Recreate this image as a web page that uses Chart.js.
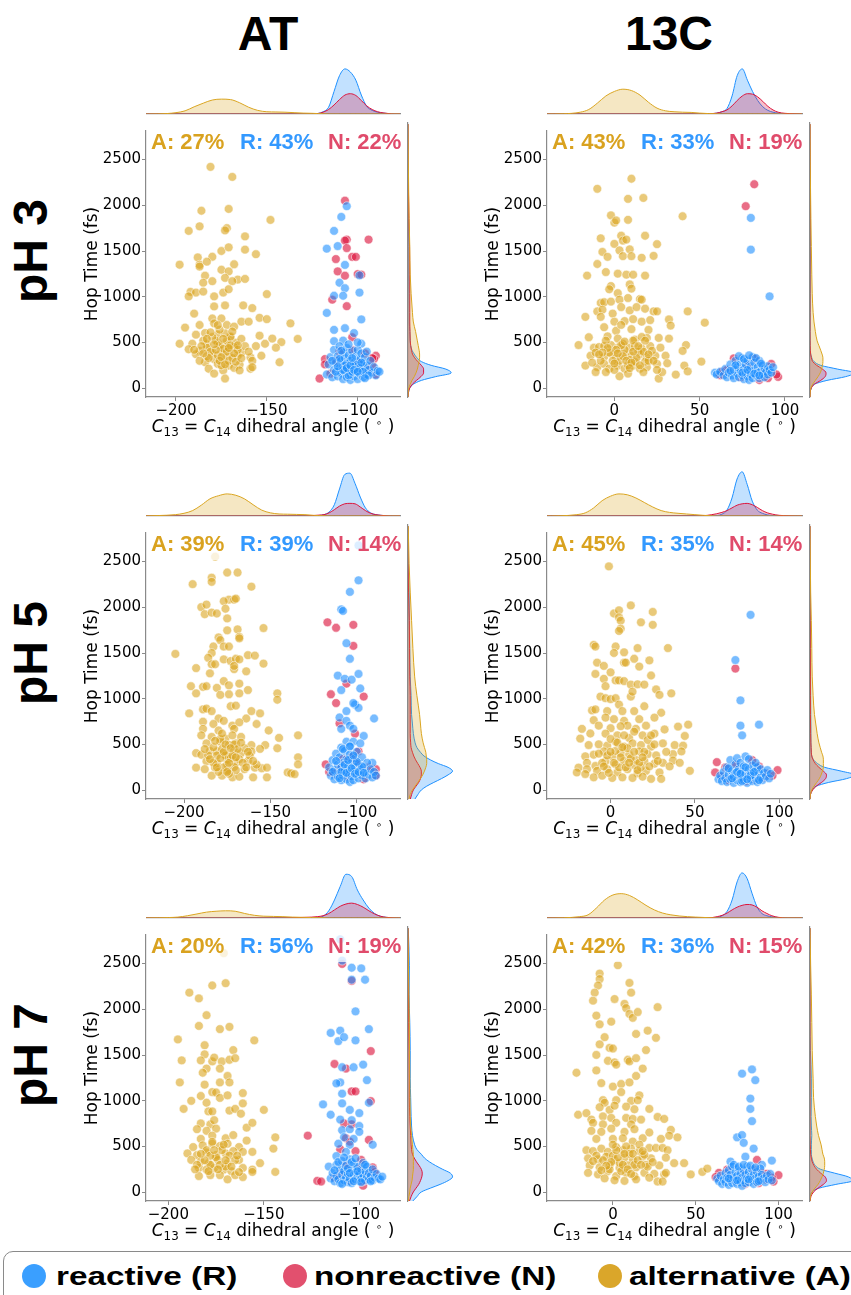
<!DOCTYPE html>
<html>
<head>
<meta charset="utf-8">
<title>Hop time vs C13=C14 dihedral angle</title>
<script src="https://cdn.jsdelivr.net/npm/chart.js@4.4.1/dist/chart.umd.min.js"></script>
<style>
  html, body { margin: 0; padding: 0; background: #fff; }
  body { position: relative; width: 851px; height: 1295px; overflow: hidden; }
  canvas { position: absolute; }
  .colTitle { position: absolute; top: 10px; width: 200px; text-align: center; font: bold 48px "Liberation Sans", Arial, sans-serif; line-height: 48px; }
  .rowTitle { position: absolute; width: 160px; height: 60px; line-height: 60px; text-align: center; font: bold 48px "Liberation Sans", Arial, sans-serif; transform: rotate(-90deg); }
  .xTitle { position: absolute; text-align: center; font: 17px "DejaVu Sans", sans-serif; line-height: 20px; white-space: nowrap; }
  .xTitle sub { font-size: 70%; line-height: 0; vertical-align: -0.3em; }
  .xTitle sup { font-size: 60%; line-height: 0; vertical-align: 0.55em; }
  #legend { position: absolute; left: 3px; top: 1251px; width: 920px; height: 60px; border: 1.5px solid #8a8a8a; border-radius: 10px; box-sizing: border-box; }
  .dot { position: absolute; width: 24px; height: 24px; border-radius: 50%; top: 12px; }
  .lab { position: absolute; top: 9px; font: bold 26px "Liberation Sans", Arial, sans-serif; line-height: 30px; transform: scaleX(1.28); transform-origin: left center; white-space: nowrap; }
</style>
</head>
<body>
<div class="colTitle" style="left:168px">AT</div>
<div class="colTitle" style="left:569px">13C</div>
<div class="rowTitle" style="left:-47px;top:221px">pH 3</div>
<div class="rowTitle" style="left:-47px;top:623px">pH 5</div>
<div class="rowTitle" style="left:-47px;top:1025px">pH 7</div>
<div id="legend">
  <div class="dot" style="left:18px;background:#3a9fff"></div>
  <div class="lab" style="left:52px">reactive (R)</div>
  <div class="dot" style="left:279px;background:#e2506e"></div>
  <div class="lab" style="left:310px">nonreactive (N)</div>
  <div class="dot" style="left:594px;background:#daa62a"></div>
  <div class="lab" style="left:625px">alternative (A)</div>
</div>
<script>
// ---- tick labels ----
const yTickVals = [0, 500, 1000, 1500, 2000, 2500];
const xTicksAT = [-200, -150, -100];
const xTicksC = [0, 50, 100];

// ---- scatter points [angle, hop time] ----
const at3A = [[-181,2420],[-169,2310],[-186,1940],[-171,1960],[-148,1840],[-193,1720],[-187,1770],[-172,1750],[-173,1725],[-162,1660],[-175,1500],[-171,1540],[-162,1515],[-156,1465],[-198,1350],[-188,1430],[-180,1437],[-187,1350],[-183,1383],[-187,1330],[-168,1355],[-175,1295],[-184,1230],[-171,1277],[-166,1188],[-180,1170],[-185,1153],[-173,1206],[-169,1170],[-162,1195],[-192,1053],[-189,1046],[-185,1057],[-193,1004],[-179,1004],[-174,1046],[-171,1082],[-150,1029],[-179,894],[-173,905],[-163,905],[-158,876],[-190,816],[-180,762],[-175,762],[-154,770],[-150,755],[-137,709],[-195,663],[-187,691],[-179,709],[-172,691],[-164,727],[-160,727],[-168,674],[-189,585],[-184,603],[-177,585],[-170,567],[-154,574],[-147,543],[-133,539],[-142,504],[-198,486],[-191,486],[-183,479],[-177,497],[-172,461],[-167,497],[-156,461],[-151,486],[-145,443],[-193,426],[-187,408],[-180,390],[-175,408],[-171,372],[-164,390],[-189,372],[-183,443],[-179,319],[-173,337],[-166,355],[-159,337],[-153,355],[-184,284],[-177,266],[-171,248],[-165,259],[-143,284],[-182,213],[-174,195],[-168,223],[-159,213],[-179,160],[-173,106],[-165,195],[-178,520],[-176,470],[-174,430],[-172,520],[-170,560],[-168,450],[-166,420],[-181,400],[-183,350],[-185,520],[-177,360],[-175,250],[-171,300],[-169,330],[-180,560],[-173,600],[-176,640],[-186,460],[-190,420],[-164,540],[-162,460],[-160,400],[-158,300],[-158,230],[-182,330],[-178,420],[-176,300],[-174,540],[-172,400],[-170,470],[-168,380],[-167,290],[-179,480],[-181,610],[-185,380],[-187,300],[-164,330],[-169,620],[-177,690],[-183,540],[-175,340],[-171,440],[-173,260],[-166,470]];
const at3R = [[-106,1990],[-109,1873],[-113,1720],[-117,1525],[-111,1554],[-107,1348],[-110,1153],[-107,1093],[-113,1011],[-108,1011],[-99,1046],[-99,1234],[-117,823],[-98,752],[-113,638],[-107,656],[-102,603],[-108,521],[-98,486],[-113,514],[-117,150],[-116,260],[-115,340],[-114,120],[-113,200],[-113,420],[-112,280],[-111,130],[-111,350],[-110,220],[-110,460],[-109,160],[-109,300],[-108,100],[-108,240],[-108,390],[-107,180],[-107,330],[-106,120],[-106,270],[-106,440],[-105,200],[-105,360],[-104,90],[-104,150],[-104,300],[-103,230],[-103,410],[-102,130],[-102,280],[-101,180],[-101,350],[-100,100],[-100,240],[-100,420],[-99,160],[-99,310],[-98,210],[-98,380],[-97,120],[-97,270],[-96,190],[-96,340],[-95,150],[-95,250],[-94,200],[-93,300],[-92,170],[-91,230],[-90,140],[-89,190],[-88,180],[-112,180],[-110,320],[-107,250],[-105,140],[-103,180],[-101,260],[-99,220],[-97,180],[-94,140],[-108,200],[-106,220],[-104,250],[-102,200],[-100,180],[-111,240],[-114,300],[-103,330],[-98,280],[-96,110],[-109,410],[-105,480],[-100,500],[-95,400]];
const at3N = [[-107,2050],[-106,1625],[-107,1614],[-94,1625],[-106,1532],[-112,1412],[-103,1436],[-101,1436],[-111,1277],[-107,1230],[-100,1248],[-98,1241],[-114,968],[-106,897],[-103,557],[-121,106],[-118,319],[-90,355],[-91,322],[-92,248],[-112,300],[-100,280],[-95,200],[-115,160],[-110,400],[-103,420],[-96,380],[-118,260],[-90,150],[-107,230],[-92,330]];

const c3A = [[10,2290],[-10,2180],[8,2070],[17,2080],[40,1880],[-2,1890],[0,1810],[1,1834],[8,1841],[-8,1639],[0,1578],[4,1667],[5,1614],[7,1625],[18,1667],[25,1575],[-7,1490],[-4,1436],[3,1507],[5,1444],[9,1518],[10,1444],[16,1426],[23,1447],[-10,1358],[-5,1270],[2,1252],[7,1241],[11,1241],[18,1231],[-16,1231],[-2,1117],[-3,1082],[9,1135],[10,1089],[2,1039],[-8,933],[-6,940],[-2,947],[3,968],[8,986],[15,975],[16,968],[-10,840],[-7,858],[-1,816],[4,887],[9,851],[13,887],[18,869],[23,840],[25,840],[43,840],[-17,780],[-8,780],[0,727],[6,734],[11,755],[16,727],[21,745],[32,752],[53,716],[-6,667],[1,628],[4,692],[10,646],[20,638],[33,685],[-4,567],[2,543],[12,532],[19,550],[26,550],[32,543],[-15,557],[-21,472],[-12,443],[-9,450],[-6,461],[-2,472],[2,443],[5,486],[9,443],[12,461],[16,436],[21,461],[27,443],[42,472],[40,408],[-14,355],[-11,390],[-6,344],[-2,380],[1,337],[6,372],[10,355],[15,372],[19,337],[24,355],[30,355],[-17,248],[-10,230],[-6,266],[-3,213],[2,248],[6,213],[11,248],[15,213],[19,230],[25,266],[31,273],[51,291],[-11,177],[-5,177],[3,131],[8,160],[17,177],[26,106],[28,177],[36,149],[41,248],[43,184],[3,300],[6,420],[9,310],[12,290],[14,400],[-3,390],[-8,300],[18,290],[22,410],[8,250],[0,200],[4,470],[11,520],[-5,520],[16,560],[20,300],[25,200],[-13,280],[1,420],[5,350],[7,300],[13,330],[17,400],[-1,300],[-4,440],[10,280],[15,250],[20,370],[23,300],[-7,390],[2,380],[11,400],[6,510],[-9,370],[14,460],[18,520],[0,270],[9,220]];
const c3R = [[80,1862],[80,1515],[91,1004],[59,170],[60,150],[62,180],[64,140],[65,210],[66,120],[67,170],[68,260],[69,140],[70,200],[70,110],[71,300],[72,160],[72,230],[73,120],[74,190],[74,280],[75,140],[75,330],[76,100],[76,210],[77,170],[77,260],[78,130],[78,300],[79,190],[79,90],[80,240],[80,150],[81,110],[81,340],[82,200],[82,280],[83,140],[84,230],[84,170],[85,110],[85,300],[86,190],[87,150],[87,250],[88,210],[88,120],[89,180],[90,240],[90,150],[91,200],[92,170],[93,230],[73,350],[76,320],[79,360],[83,330],[86,270],[71,250],[68,190],[75,170],[78,200],[82,160],[85,140]];
const c3N = [[82,2230],[77,1990],[96,124],[70,326],[62,142],[92,266],[82,326],[66,200],[74,120],[88,180],[85,90],[78,250],[90,110],[63,180],[95,150]];

const at5A = [[-182,2553],[-175,2380],[-169,2380],[-195,2253],[-184,2323],[-184,2278],[-161,2225],[-190,2002],[-187,2030],[-174,2083],[-171,2083],[-177,2066],[-170,2095],[-188,1924],[-184,1942],[-181,1932],[-176,1984],[-175,1878],[-175,1748],[-169,1758],[-154,1773],[-180,1670],[-179,1642],[-168,1677],[-168,1660],[-183,1571],[-177,1571],[-174,1571],[-205,1490],[-184,1500],[-186,1448],[-177,1430],[-173,1412],[-170,1437],[-168,1430],[-163,1476],[-159,1472],[-154,1384],[-193,1335],[-184,1377],[-182,1377],[-171,1324],[-171,1359],[-164,1300],[-185,1278],[-177,1193],[-168,1165],[-196,1137],[-189,1130],[-187,1137],[-181,1119],[-174,1147],[-163,1095],[-193,1059],[-179,1042],[-174,1049],[-168,1059],[-146,1059],[-146,989],[-173,918],[-170,925],[-189,883],[-187,893],[-184,865],[-161,865],[-197,840],[-156,840],[-180,784],[-177,759],[-164,784],[-189,749],[-183,724],[-172,706],[-168,742],[-158,724],[-189,671],[-180,653],[-171,671],[-151,653],[-145,572],[-134,600],[-190,600],[-184,583],[-176,565],[-167,583],[-187,512],[-179,530],[-174,494],[-170,512],[-161,494],[-153,494],[-193,406],[-190,388],[-185,430],[-181,424],[-176,388],[-171,430],[-167,406],[-161,424],[-156,452],[-146,459],[-187,318],[-181,300],[-175,335],[-170,300],[-163,318],[-134,360],[-134,282],[-193,247],[-188,230],[-182,247],[-175,219],[-171,254],[-165,230],[-159,247],[-155,240],[-152,247],[-184,159],[-178,159],[-172,141],[-168,148],[-160,141],[-152,141],[-140,194],[-138,184],[-136,176],[-178,450],[-176,380],[-173,350],[-171,500],[-179,560],[-181,380],[-183,470],[-175,280],[-177,250],[-180,200],[-168,340],[-165,460],[-170,220],[-172,600],[-186,380],[-174,180],[-162,380],[-158,280],[-183,300],[-179,350],[-177,420],[-174,300],[-172,380],[-169,450],[-166,300],[-164,250],[-181,250],[-185,340],[-188,450],[-176,500],[-173,460],[-170,360],[-167,520],[-163,420],[-178,620],[-175,200],[-182,540],[-160,320]];
const at5R = [[-99,2676],[-99,2295],[-104,2168],[-109,1977],[-108,1960],[-106,1607],[-104,1437],[-111,1253],[-107,1218],[-103,1208],[-99,1271],[-109,1095],[-98,1112],[-106,865],[-101,936],[-99,900],[-102,953],[-90,784],[-110,795],[-106,759],[-104,706],[-109,671],[-102,671],[-96,593],[-106,530],[-102,530],[-98,512],[-109,466],[-104,477],[-91,300],[-116,250],[-115,160],[-114,330],[-113,120],[-113,220],[-112,400],[-111,280],[-111,150],[-110,190],[-110,360],[-109,110],[-109,250],[-108,300],[-108,160],[-107,430],[-107,210],[-106,120],[-106,340],[-105,260],[-105,180],[-104,90],[-104,390],[-104,220],[-103,150],[-103,300],[-102,200],[-102,110],[-101,350],[-101,250],[-100,170],[-100,420],[-99,130],[-99,290],[-98,220],[-97,160],[-97,360],[-96,250],[-95,130],[-95,190],[-94,300],[-93,170],[-92,230],[-91,140],[-90,200],[-89,160],[-112,320],[-109,200],[-107,280],[-106,190],[-105,330],[-103,240],[-101,180],[-99,200],[-97,260],[-108,450],[-104,480],[-100,310],[-96,190],[-110,130],[-114,200],[-102,380]];
const at5N = [[-117,1836],[-112,1776],[-102,1808],[-102,1578],[-115,1049],[-112,953],[-96,1024],[-106,1165],[-110,731],[-101,618],[-118,282],[-89,230],[-89,159],[-99,424],[-110,230],[-106,150],[-100,300],[-96,120],[-113,180],[-103,360],[-93,250],[-116,200],[-108,340]];

const c5A = [[-1,2447],[12,2020],[2,1932],[5,1967],[25,1949],[5,1889],[6,1854],[6,1766],[5,1741],[18,1836],[25,1808],[-10,1589],[-9,1571],[3,1571],[16,1554],[34,1554],[2,1500],[8,1508],[14,1437],[23,1419],[-8,1395],[-4,1359],[8,1395],[9,1395],[17,1352],[0,1289],[-9,1271],[24,1254],[-4,1218],[3,1200],[5,1200],[8,1193],[12,1155],[16,1158],[20,1155],[-3,1137],[27,1102],[36,1059],[-6,1024],[-3,1006],[0,996],[3,1006],[12,1024],[13,1077],[29,1042],[-11,872],[-9,883],[-2,865],[5,936],[7,865],[14,865],[20,918],[30,847],[-3,794],[2,777],[8,759],[17,777],[26,794],[-10,766],[-7,706],[0,678],[10,706],[15,671],[21,706],[32,664],[40,696],[46,717],[-18,565],[-17,671],[-3,618],[4,600],[11,572],[19,600],[26,618],[44,593],[-13,494],[-7,502],[-2,487],[3,530],[8,477],[13,512],[18,494],[24,477],[31,512],[38,494],[43,487],[-15,371],[-10,388],[-4,424],[1,371],[6,406],[11,388],[17,424],[22,395],[27,381],[37,395],[42,424],[-14,300],[-9,265],[-3,318],[3,282],[8,318],[14,275],[20,318],[26,290],[31,300],[37,325],[41,300],[-19,247],[-14,230],[-8,212],[-2,230],[4,194],[10,230],[16,184],[21,212],[29,194],[47,212],[-20,194],[-15,177],[-10,141],[-5,159],[1,134],[7,141],[13,134],[19,148],[24,124],[30,124],[5,250],[10,460],[15,330],[20,420],[-5,300],[0,560],[8,600],[12,350],[18,250],[22,550],[3,430],[-2,380],[26,500],[14,640],[6,700],[2,300],[6,360],[9,250],[14,420],[17,300],[23,260],[-4,260],[0,420],[4,520],[11,300],[19,360],[-7,400],[28,320],[33,420],[7,470],[-1,190],[16,220],[24,600],[-12,620],[35,260]];
const c5R = [[83,1917],[74,1423],[77,982],[77,706],[88,717],[78,600],[64,120],[65,160],[66,100],[67,200],[68,130],[69,90],[69,250],[70,170],[71,120],[71,330],[72,210],[73,80],[73,150],[74,280],[74,190],[75,110],[75,350],[76,160],[76,230],[77,90],[77,300],[78,140],[78,200],[79,260],[79,110],[80,180],[80,370],[81,80],[81,150],[82,230],[82,340],[83,120],[83,190],[84,270],[84,100],[85,160],[86,210],[86,130],[87,90],[87,250],[88,180],[89,140],[89,230],[90,110],[91,190],[92,150],[93,220],[94,130],[95,180],[72,130],[75,200],[78,100],[80,250],[83,160],[86,300],[70,240],[77,180],[81,120],[85,200],[88,110]];
const c5N = [[74,1330],[63,307],[62,194],[99,220],[84,328],[91,141],[66,150],[70,110],[88,260],[93,180],[80,100],[74,280],[68,250],[96,160],[85,120]];

const at7A = [[-171,2613],[-170,2285],[-177,2260],[-189,2182],[-184,2119],[-180,1935],[-184,1818],[-173,1783],[-168,1808],[-195,1670],[-155,1660],[-181,1607],[-166,1554],[-181,1508],[-193,1441],[-183,1441],[-177,1430],[-176,1472],[-172,1430],[-168,1448],[-165,1465],[-180,1352],[-182,1306],[-173,1352],[-169,1271],[-194,1200],[-181,1176],[-173,1200],[-168,1200],[-177,1095],[-175,1090],[-183,1052],[-188,999],[-180,978],[-173,1031],[-169,1059],[-161,1084],[-192,911],[-179,883],[-177,883],[-168,893],[-165,911],[-161,971],[-150,900],[-162,858],[-183,752],[-178,742],[-176,787],[-185,689],[-180,671],[-175,696],[-159,706],[-156,759],[-144,600],[-183,583],[-177,618],[-170,590],[-166,625],[-159,565],[-187,494],[-182,512],[-177,530],[-173,505],[-169,530],[-163,494],[-145,477],[-190,424],[-185,406],[-180,434],[-175,406],[-170,424],[-166,449],[-161,441],[-156,441],[-188,353],[-183,335],[-179,318],[-174,353],[-169,318],[-163,353],[-152,318],[-184,265],[-180,247],[-176,265],[-171,247],[-167,230],[-161,265],[-156,247],[-144,222],[-184,177],[-178,187],[-173,187],[-169,141],[-165,187],[-161,166],[-156,222],[-172,460],[-168,400],[-175,380],[-178,300],[-180,460],[-170,280],[-165,350],[-163,220],[-185,300],[-177,550],[-178,400],[-173,300],[-170,350],[-167,280],[-181,350],[-176,460],[-183,420],[-171,520],[-164,400],[-186,250],[-179,230],[-174,250]];
const at7R = [[-110,2765],[-109,2532],[-104,2454],[-99,2447],[-97,2323],[-104,2323],[-102,1977],[-115,1741],[-110,1766],[-95,1783],[-111,1652],[-108,1695],[-102,1660],[-109,1366],[-103,1366],[-98,1395],[-110,1200],[-112,1190],[-96,1225],[-109,1077],[-119,960],[-115,847],[-109,971],[-105,900],[-100,865],[-95,978],[-110,794],[-104,787],[-100,724],[-109,678],[-105,689],[-100,660],[-108,600],[-103,583],[-111,530],[-105,519],[-93,519],[-112,395],[-107,441],[-116,280],[-115,150],[-114,210],[-113,120],[-112,300],[-112,180],[-111,140],[-110,250],[-110,100],[-109,190],[-109,340],[-108,130],[-108,230],[-107,160],[-107,290],[-106,110],[-106,200],[-105,360],[-105,150],[-104,250],[-104,100],[-103,190],[-103,310],[-102,140],[-102,220],[-101,170],[-101,280],[-100,120],[-100,200],[-99,250],[-99,150],[-98,190],[-98,320],[-97,130],[-97,230],[-96,170],[-96,280],[-95,140],[-95,210],[-94,180],[-93,250],[-93,130],[-92,160],[-91,200],[-90,150],[-89,140],[-88,170],[-111,330],[-108,380],[-106,260],[-104,330],[-102,370],[-105,210],[-103,120],[-101,230],[-99,110],[-97,300],[-113,240],[-109,90],[-94,120]];
const at7N = [[-109,2496],[-104,2310],[-94,1543],[-113,1402],[-107,1352],[-104,1102],[-102,1102],[-94,996],[-108,752],[-104,742],[-107,590],[-105,554],[-95,572],[-110,470],[-102,449],[-127,618],[-122,124],[-120,117],[-99,353],[-93,272],[-98,71],[-110,200],[-105,130],[-100,260],[-96,190],[-113,160],[-107,300],[-92,220],[-98,120]];

const c7A = [[3,2482],[-8,2390],[-8,2330],[-9,2260],[10,2288],[-11,2182],[11,2182],[-12,2094],[1,2112],[7,2059],[8,2013],[-10,1931],[10,1949],[12,1907],[15,1970],[27,2023],[-8,1836],[-1,1864],[-5,1695],[14,1730],[21,1766],[26,1688],[-8,1617],[-2,1578],[0,1571],[20,1554],[-10,1501],[-3,1437],[1,1419],[2,1395],[9,1448],[10,1430],[14,1465],[-22,1306],[-10,1331],[14,1271],[18,1352],[-7,1193],[0,1155],[5,1183],[5,1095],[10,1200],[16,1059],[-6,1006],[-5,978],[2,1006],[11,999],[15,1006],[22,911],[-8,929],[-2,900],[1,946],[8,936],[13,907],[-21,847],[-16,865],[-13,794],[-6,829],[-1,812],[8,812],[12,801],[17,794],[27,823],[31,801],[-12,759],[-6,742],[2,759],[11,742],[35,682],[-13,671],[-7,660],[-1,696],[7,660],[13,689],[22,653],[34,618],[39,600],[-10,583],[0,583],[6,590],[12,554],[18,590],[29,583],[-16,459],[-12,449],[-7,477],[-3,441],[2,494],[6,459],[11,477],[16,449],[22,484],[26,484],[30,484],[33,459],[-15,371],[-9,360],[-4,388],[1,353],[7,378],[12,353],[18,388],[23,371],[32,378],[-14,293],[-8,272],[-2,300],[4,265],[9,293],[14,272],[20,300],[28,293],[37,318],[43,318],[-15,212],[-9,194],[-3,230],[2,177],[8,212],[13,177],[19,212],[25,201],[31,194],[32,212],[47,194],[54,222],[57,258],[-5,152],[1,131],[7,124],[14,141],[22,159],[27,117],[30,117],[0,400],[4,320],[8,500],[-2,250],[10,420],[13,300],[-6,350],[16,520],[19,410],[5,230],[-10,400],[21,280],[3,380],[6,300],[9,250],[12,420],[15,350],[-1,330],[-4,290],[2,460],[7,420],[17,300],[-7,240],[11,200],[24,330],[0,520],[-12,340],[18,450]];
const c7R = [[84,1342],[78,1296],[86,1225],[83,1024],[83,911],[84,777],[75,600],[78,625],[79,540],[85,477],[80,388],[96,346],[71,335],[90,300],[63,150],[64,120],[65,180],[66,90],[67,140],[68,210],[68,110],[69,160],[70,80],[70,240],[71,130],[71,190],[72,100],[72,280],[73,160],[74,120],[74,220],[75,90],[75,180],[76,140],[76,260],[77,110],[77,200],[78,70],[78,160],[79,240],[79,130],[80,100],[80,190],[81,280],[81,150],[82,110],[82,220],[83,170],[84,130],[84,250],[85,90],[85,190],[86,150],[87,220],[87,110],[88,170],[89,130],[89,260],[90,190],[91,150],[92,110],[93,180],[94,140],[95,200],[96,130],[73,300],[76,280],[79,300],[83,290],[86,270],[70,150],[75,130],[82,140],[88,120]];
const c7N = [[87,353],[64,212],[62,166],[100,187],[97,117],[90,212],[93,201],[69,247],[74,120],[80,90],[85,250],[70,180],[92,140],[88,100],[96,160],[78,220]];

// ---- percentages shown in each panel: A, R, N ----
const at3Pct = [27, 43, 22], c3Pct = [43, 33, 19];
const at5Pct = [39, 39, 14], c5Pct = [45, 35, 14];
const at7Pct = [20, 56, 19], c7Pct = [42, 36, 15];

// ---- marginal density curves (relative height) ----
const gridAT = [-225,-215,-205,-200,-195,-190,-185,-180,-175,-170,-165,-160,-155,-150,-145,-140,-135,-130,-125,-122,-119,-116,-113,-110,-107,-104,-101,-98,-95,-92,-89,-86,-83,-80,-75];
const gridC = [-40,-30,-20,-15,-10,-5,0,5,10,15,20,25,30,35,40,45,50,55,60,63,66,69,72,75,78,81,84,87,90,93,96,100,105,110,115];
const hopGrid = [-100,-50,0,40,80,120,160,200,240,280,320,360,400,450,500,600,700,800,1000,1200,1500,1800,2100,2400,2800];

const at3TopA = [0,0,0.01,0.03,0.07,0.16,0.24,0.31,0.33,0.32,0.25,0.15,0.08,0.05,0.045,0.04,0.03,0.02,0.015,0.01,0.005,0,0,0,0,0,0,0,0,0,0,0,0,0,0];
const at3TopR = [0,0,0,0,0,0,0,0,0,0,0,0,0,0,0,0,0,0,0,0.01,0.05,0.15,0.5,0.85,1.0,0.93,0.75,0.42,0.17,0.08,0.04,0.02,0.008,0,0];
const at3TopN = [0,0,0,0,0,0,0,0,0,0,0,0,0,0,0,0,0,0,0,0.01,0.04,0.1,0.2,0.32,0.42,0.45,0.41,0.3,0.18,0.1,0.05,0.025,0.01,0,0];
const c3TopA = [0,0.005,0.04,0.1,0.24,0.4,0.5,0.55,0.52,0.42,0.26,0.13,0.07,0.05,0.04,0.035,0.02,0.01,0.005,0,0,0,0,0,0,0,0,0,0,0,0,0,0,0,0];
const c3TopR = [0,0,0,0,0,0,0,0,0,0,0,0,0,0,0,0,0,0,0.02,0.05,0.12,0.4,0.85,1.0,0.75,0.5,0.3,0.16,0.08,0.04,0.02,0.005,0,0,0];
const c3TopN = [0,0,0,0,0,0,0,0,0,0,0,0,0,0,0,0,0,0.005,0.02,0.05,0.09,0.18,0.3,0.4,0.45,0.44,0.38,0.28,0.17,0.09,0.04,0.015,0.005,0,0];
const at5TopA = [0,0.01,0.03,0.06,0.12,0.24,0.38,0.45,0.49,0.46,0.38,0.25,0.13,0.07,0.045,0.04,0.035,0.03,0.015,0.01,0.005,0,0,0,0,0,0,0,0,0,0,0,0,0,0];
const at5TopR = [0,0,0,0,0,0,0,0,0,0,0,0,0,0,0,0,0,0,0.003,0.01,0.03,0.09,0.25,0.6,0.92,0.95,0.72,0.42,0.18,0.07,0.03,0.015,0.005,0,0];
const at5TopN = [0,0,0,0,0,0,0,0,0,0,0,0,0,0,0,0,0,0,0.01,0.02,0.03,0.07,0.14,0.22,0.27,0.28,0.27,0.2,0.12,0.06,0.03,0.015,0.005,0,0];
const c5TopA = [0,0.005,0.03,0.07,0.18,0.34,0.44,0.49,0.47,0.4,0.3,0.2,0.12,0.08,0.06,0.045,0.03,0.015,0.005,0,0,0,0,0,0,0,0,0,0,0,0,0,0,0,0];
const c5TopR = [0,0,0,0,0,0,0,0,0,0,0,0,0,0,0,0,0,0,0.005,0.01,0.04,0.13,0.4,0.82,0.98,0.7,0.33,0.13,0.06,0.025,0.01,0.003,0,0,0];
const c5TopN = [0,0,0,0,0,0,0,0,0,0,0,0,0,0,0,0,0,0.005,0.03,0.05,0.08,0.12,0.18,0.24,0.27,0.28,0.25,0.19,0.12,0.07,0.04,0.015,0.005,0,0];
const at7TopA = [0,0,0.005,0.01,0.02,0.05,0.09,0.13,0.15,0.16,0.15,0.1,0.06,0.04,0.035,0.03,0.02,0.015,0.01,0.008,0.005,0,0,0,0,0,0,0,0,0,0,0,0,0,0];
const at7TopR = [0,0,0,0,0,0,0,0,0,0,0,0,0,0,0,0,0,0,0.005,0.015,0.04,0.16,0.4,0.7,0.97,0.92,0.62,0.4,0.22,0.1,0.04,0.015,0.005,0,0];
const at7TopN = [0,0,0,0,0,0,0,0,0,0,0,0,0,0,0,0,0.005,0.012,0.02,0.03,0.05,0.1,0.18,0.26,0.31,0.33,0.3,0.24,0.16,0.09,0.04,0.015,0.005,0,0];
const c7TopA = [0,0.005,0.03,0.07,0.22,0.4,0.51,0.54,0.5,0.4,0.28,0.18,0.11,0.07,0.045,0.03,0.02,0.012,0.005,0,0,0,0,0,0,0,0,0,0,0,0,0,0,0,0];
const c7TopR = [0,0,0,0,0,0,0,0,0,0,0,0,0,0,0,0,0,0,0.005,0.015,0.05,0.15,0.4,0.8,1.0,0.88,0.55,0.25,0.1,0.05,0.025,0.008,0,0,0];
const c7TopN = [0,0,0,0,0,0,0,0,0,0,0,0,0,0,0,0,0,0,0.01,0.03,0.06,0.11,0.18,0.24,0.28,0.3,0.29,0.24,0.16,0.1,0.05,0.015,0,0,0];

const at3SideA = [0,0.005,0.02,0.05,0.09,0.14,0.18,0.21,0.23,0.25,0.26,0.26,0.25,0.23,0.21,0.17,0.12,0.1,0.07,0.05,0.04,0.025,0.015,0.008,0];
const at3SideR = [0,0.01,0.04,0.12,0.3,0.62,0.97,0.85,0.52,0.3,0.2,0.14,0.09,0.06,0.05,0.04,0.03,0.03,0.025,0.02,0.02,0.012,0.005,0,0];
const at3SideN = [0,0.01,0.04,0.1,0.19,0.29,0.35,0.35,0.3,0.22,0.15,0.1,0.08,0.06,0.05,0.045,0.04,0.04,0.04,0.04,0.035,0.02,0.01,0.003,0];
const c3SideA = [0,0.005,0.02,0.06,0.12,0.18,0.23,0.26,0.28,0.29,0.29,0.27,0.24,0.2,0.16,0.12,0.09,0.07,0.05,0.04,0.03,0.02,0.012,0.005,0];
const c3SideR = [0,0.005,0.03,0.1,0.38,0.8,1.0,0.62,0.24,0.09,0.04,0.015,0.005,0.003,0.003,0.003,0.003,0.004,0.006,0.006,0.008,0.008,0.003,0,0];
const c3SideN = [0,0.005,0.03,0.1,0.24,0.34,0.36,0.28,0.15,0.06,0.03,0.015,0.008,0.004,0.002,0,0,0,0,0,0,0.004,0.005,0.002,0];
const at5SideA = [0.02,0.05,0.1,0.16,0.22,0.28,0.33,0.37,0.4,0.42,0.42,0.41,0.4,0.37,0.34,0.3,0.28,0.26,0.2,0.15,0.11,0.08,0.05,0.025,0.005];
const at5SideR = [0.15,0.22,0.3,0.42,0.58,0.75,0.9,1.0,0.9,0.68,0.5,0.36,0.28,0.2,0.16,0.12,0.1,0.08,0.07,0.05,0.04,0.03,0.025,0.01,0];
const at5SideN = [0.05,0.08,0.12,0.18,0.24,0.28,0.3,0.3,0.27,0.22,0.17,0.13,0.1,0.07,0.06,0.05,0.05,0.05,0.05,0.04,0.035,0.03,0.012,0.003,0];
const c5SideA = [0,0.01,0.04,0.09,0.15,0.21,0.25,0.28,0.3,0.3,0.3,0.29,0.26,0.23,0.2,0.16,0.13,0.1,0.07,0.05,0.04,0.03,0.015,0.008,0];
const c5SideR = [0,0.01,0.05,0.14,0.42,0.82,1.0,0.7,0.33,0.17,0.08,0.04,0.03,0.025,0.02,0.02,0.02,0.018,0.015,0.012,0.01,0.01,0.004,0,0];
const c5SideN = [0,0.01,0.06,0.14,0.26,0.35,0.37,0.3,0.2,0.12,0.07,0.04,0.03,0.025,0.02,0.015,0.012,0.01,0.01,0.01,0.008,0.005,0,0,0];
const at7SideA = [0.01,0.02,0.04,0.05,0.07,0.09,0.1,0.11,0.12,0.12,0.12,0.12,0.12,0.11,0.1,0.08,0.06,0.05,0.045,0.04,0.035,0.03,0.02,0.01,0];
const at7SideR = [0.1,0.2,0.3,0.5,0.72,0.9,1.0,0.95,0.78,0.62,0.48,0.37,0.3,0.2,0.15,0.1,0.08,0.07,0.06,0.05,0.05,0.04,0.025,0.03,0.005];
const at7SideN = [0.03,0.07,0.12,0.18,0.24,0.28,0.31,0.32,0.3,0.25,0.19,0.14,0.1,0.08,0.07,0.06,0.05,0.04,0.03,0.03,0.025,0.015,0.01,0.01,0];
const c7SideA = [0,0.01,0.05,0.11,0.18,0.23,0.27,0.3,0.32,0.33,0.33,0.32,0.29,0.27,0.25,0.19,0.15,0.12,0.08,0.07,0.05,0.04,0.03,0.015,0];
const c7SideR = [0,0.01,0.05,0.2,0.58,0.96,0.86,0.55,0.24,0.12,0.07,0.045,0.03,0.03,0.03,0.04,0.03,0.025,0.03,0.03,0.01,0,0,0,0];
const c7SideN = [0,0.02,0.08,0.18,0.3,0.37,0.34,0.24,0.15,0.09,0.05,0.03,0.015,0.01,0.005,0,0,0,0,0,0,0,0,0,0];

// ---- styling ----
Chart.defaults.font.family = '"DejaVu Sans", sans-serif';
const COLORS = { A: '#daa520', R: '#1e90ff', N: '#dc143c' };
const POINT_FILL = { A: 'rgba(218,165,32,0.6)', R: 'rgba(30,144,255,0.6)', N: 'rgba(220,20,60,0.62)' };
const AREA_FILL = { A: 'rgba(218,165,32,0.27)', R: 'rgba(30,144,255,0.27)', N: 'rgba(220,20,60,0.27)' };
const TEXT_COLORS = { A: '#d9a21f', R: '#3399ff', N: '#e04b6b' };
const AXIS = '#8a8a8a';
const Y_MIN = -96, Y_MAX = 2812;
const COL_LEFT = [146, 547], COL_W = [254, 255], ROW_TOP = [123, 525, 927], PLOT_H = 274;

const panels = [
  { row: 0, col: 0, xMin: -216.5, xMax: -76.7, xTicks: xTicksAT, A: at3A, R: at3R, N: at3N, pct: at3Pct, grid: gridAT, topA: at3TopA, topR: at3TopR, topN: at3TopN, sideA: at3SideA, sideR: at3SideR, sideN: at3SideN },
  { row: 0, col: 1, xMin: -39.5, xMax: 110, xTicks: xTicksC, A: c3A, R: c3R, N: c3N, pct: c3Pct, grid: gridC, topA: c3TopA, topR: c3TopR, topN: c3TopN, sideA: c3SideA, sideR: c3SideR, sideN: c3SideN },
  { row: 1, col: 0, xMin: -222, xMax: -75, xTicks: xTicksAT, A: at5A, R: at5R, N: at5N, pct: at5Pct, grid: gridAT, topA: at5TopA, topR: at5TopR, topN: at5TopN, sideA: at5SideA, sideR: at5SideR, sideN: at5SideN },
  { row: 1, col: 1, xMin: -37.7, xMax: 113.5, xTicks: xTicksC, A: c5A, R: c5R, N: c5N, pct: c5Pct, grid: gridC, topA: c5TopA, topR: c5TopR, topN: c5TopN, sideA: c5SideA, sideR: c5SideR, sideN: c5SideN },
  { row: 2, col: 0, xMin: -211.7, xMax: -78.7, xTicks: xTicksAT, A: at7A, R: at7R, N: at7N, pct: at7Pct, grid: gridAT, topA: at7TopA, topR: at7TopR, topN: at7TopN, sideA: at7SideA, sideR: at7SideR, sideN: at7SideN },
  { row: 2, col: 1, xMin: -39.8, xMax: 114.2, xTicks: xTicksC, A: c7A, R: c7R, N: c7N, pct: c7Pct, grid: gridC, topA: c7TopA, topR: c7TopR, topN: c7TopN, sideA: c7SideA, sideR: c7SideR, sideN: c7SideN },
];

function fmtTick(v) {
  return v < 0 ? '\u2212' + Math.abs(v) : String(v);
}

function addCanvas(left, top, w, h) {
  const c = document.createElement('canvas');
  c.width = w; c.height = h;
  c.style.left = left + 'px'; c.style.top = top + 'px';
  c.style.width = w + 'px'; c.style.height = h + 'px';
  document.body.appendChild(c);
  return c;
}

// percentages strip at the top of each scatter, on a light white box
const statsPlugin = {
  id: 'stats',
  afterDatasetsDraw(chart, args, opts) {
    const { ctx, chartArea: a } = chart;
    ctx.save();
    ctx.fillStyle = 'rgba(255,255,255,0.75)';
    ctx.fillRect(a.left + 1, a.top, a.right - a.left + 4, 27);
    ctx.font = 'bold 22px "Liberation Sans", Arial, sans-serif';
    ctx.textBaseline = 'middle';
    ctx.textAlign = 'left';
    const keys = ['A', 'R', 'N'], offs = [5, 94, 182];
    keys.forEach((k, i) => {
      ctx.fillStyle = TEXT_COLORS[k];
      ctx.fillText(k + ': ' + opts.pct[i] + '%', a.left + offs[i], a.top + 12);
    });
    ctx.restore();
  }
};

function pointSet(pts, key, order) {
  return {
    data: pts, order,
    pointRadius: 4.4, pointHoverRadius: 4.4,
    pointBackgroundColor: POINT_FILL[key],
    pointBorderColor: 'rgba(255,255,255,0.75)',
    pointBorderWidth: 0.7
  };
}

function curve(xs, ys, key, order, vertical) {
  const data = xs.map((v, i) => vertical ? { x: ys[i], y: v } : { x: v, y: ys[i] });
  return {
    data, order,
    borderColor: COLORS[key], borderWidth: 1,
    backgroundColor: AREA_FILL[key], fill: 'origin',
    pointRadius: 0, cubicInterpolationMode: 'monotone'
  };
}

const quiet = { legend: { display: false }, tooltip: { enabled: false } };

function makeScatter(p) {
  const cv = addCanvas(COL_LEFT[p.col] - 70, ROW_TOP[p.row] - 2, 70 + COL_W[p.col] + 8, 2 + PLOT_H + 28);
  new Chart(cv, {
    type: 'scatter',
    data: { datasets: [pointSet(p.R, 'R', 1), pointSet(p.N, 'N', 2), pointSet(p.A, 'A', 3)] },
    options: {
      responsive: false, animation: false, events: [],
      layout: { padding: { left: 0, top: 2, right: 8, bottom: 0 } },
      plugins: { ...quiet, stats: { pct: p.pct } },
      scales: {
        x: {
          type: 'linear', min: p.xMin, max: p.xMax,
          afterFit: s => { s.height = 28; },
          afterBuildTicks: s => { s.ticks = p.xTicks.map(v => ({ value: v })); },
          border: { color: AXIS, width: 1.2 },
          grid: { drawOnChartArea: false, tickLength: 4, color: AXIS },
          ticks: { maxRotation: 0, autoSkip: false, padding: 1, color: '#000', font: { size: 15 }, callback: v => fmtTick(v) }
        },
        y: {
          type: 'linear', min: Y_MIN, max: Y_MAX,
          afterFit: s => { s.width = 70; },
          afterBuildTicks: s => { s.ticks = yTickVals.map(v => ({ value: v })); },
          border: { color: AXIS, width: 1.2 },
          grid: { drawOnChartArea: false, tickLength: 4, color: AXIS },
          ticks: { autoSkip: false, padding: 1, color: '#000', font: { size: 15 }, callback: v => String(v) },
          title: { display: true, text: 'Hop Time (fs)', color: '#000', font: { size: 17 }, padding: { top: 6, bottom: 0 } }
        }
      }
    },
    plugins: [statsPlugin]
  });
}

function makeTop(p) {
  const base = ROW_TOP[p.row] - 9;
  const cv = addCanvas(COL_LEFT[p.col], base - 48, COL_W[p.col] + 2, 50);
  new Chart(cv, {
    type: 'line',
    data: { datasets: [curve(p.grid, p.topR, 'R', 3, false), curve(p.grid, p.topN, 'N', 2, false), curve(p.grid, p.topA, 'A', 1, false)] },
    options: {
      responsive: false, animation: false, events: [],
      layout: { padding: { left: 0, right: 2, top: 2, bottom: 2 } },
      plugins: quiet,
      scales: {
        x: { type: 'linear', min: p.xMin, max: p.xMax, afterFit: s => { s.height = 0; }, ticks: { display: false }, grid: { display: false }, border: { color: AXIS, width: 1.2 } },
        y: { type: 'linear', min: 0, max: 1.02, display: false }
      }
    }
  });
}

function makeSide(p) {
  const left = COL_LEFT[p.col] + COL_W[p.col] + 7;
  const cv = addCanvas(left, ROW_TOP[p.row] - 2, 50, PLOT_H + 4);
  new Chart(cv, {
    type: 'line',
    data: { datasets: [curve(hopGrid, p.sideR, 'R', 3, true), curve(hopGrid, p.sideN, 'N', 2, true), curve(hopGrid, p.sideA, 'A', 1, true)] },
    options: {
      indexAxis: 'y',
      responsive: false, animation: false, events: [],
      layout: { padding: { left: 1, right: 0, top: 2, bottom: 2 } },
      plugins: quiet,
      scales: {
        y: { type: 'linear', min: Y_MIN, max: Y_MAX, afterFit: s => { s.width = 0; }, ticks: { display: false }, grid: { display: false }, border: { color: AXIS, width: 1.2 } },
        x: { type: 'linear', min: 0, max: 1.1, display: false }
      }
    }
  });
}

function addXTitle(p) {
  const d = document.createElement('div');
  d.className = 'xTitle';
  d.style.left = COL_LEFT[p.col] + 'px';
  d.style.width = COL_W[p.col] + 'px';
  d.style.top = (ROW_TOP[p.row] + PLOT_H + 19) + 'px';
  d.innerHTML = '<i>C</i><sub>13</sub> = <i>C</i><sub>14</sub> dihedral angle ( <sup>\u2218</sup> )';
  document.body.appendChild(d);
}

panels.forEach(p => {
  makeTop(p);
  makeScatter(p);
  makeSide(p);
  addXTitle(p);
});
</script>
</body>
</html>
